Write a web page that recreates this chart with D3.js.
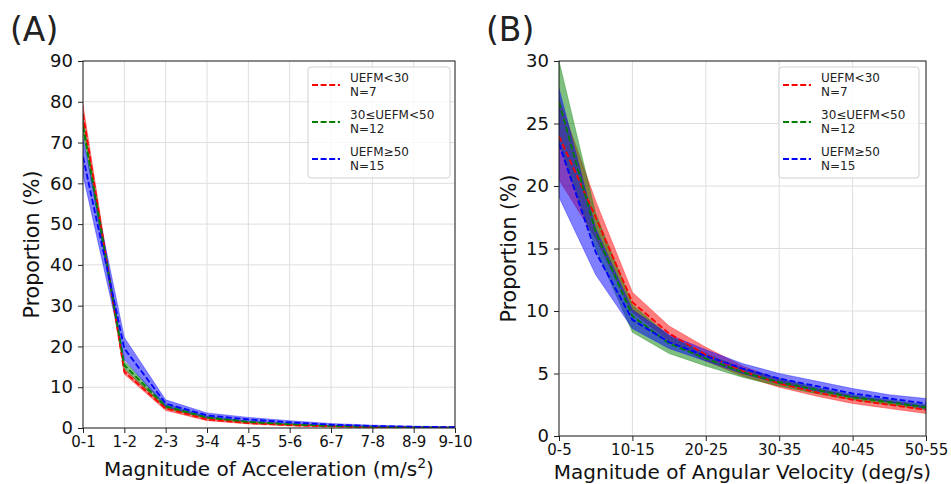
<!DOCTYPE html>
<html>
<head>
<meta charset="utf-8">
<script src="https://cdn.jsdelivr.net/npm/d3@7"></script>
<style>
  body { margin: 0; background: #fff; }
  svg { font-family: "DejaVu Sans", sans-serif; display: block; }
</style>
</head>
<body>
<div id="chart"></div>
<script>
// panel A categories and values (proportion %)
const accCats = ['0-1', '1-2', '2-3', '3-4', '4-5', '5-6', '6-7', '7-8', '8-9', '9-10'];
const accRedMean = [77.0, 13.8, 4.8, 2.1, 1.2, 0.7, 0.4, 0.2, 0.1, 0.1];
const accRedLow = [75.0, 13.2, 4.3, 1.8, 1.0, 0.5, 0.3, 0.15, 0.05, 0.05];
const accRedHigh = [79.3, 14.5, 5.3, 2.5, 1.4, 0.9, 0.5, 0.3, 0.2, 0.15];
const accGreenMean = [74.0, 15.4, 5.3, 2.6, 1.5, 0.9, 0.5, 0.3, 0.2, 0.1];
const accGreenLow = [72.0, 14.5, 4.8, 2.3, 1.3, 0.8, 0.4, 0.25, 0.15, 0.05];
const accGreenHigh = [76.0, 16.4, 5.8, 2.9, 1.7, 1.1, 0.6, 0.4, 0.25, 0.15];
const accBlueMean = [66.5, 19.5, 6.0, 3.1, 2.1, 1.4, 0.8, 0.5, 0.3, 0.2];
const accBlueLow = [62.0, 16.8, 5.2, 2.6, 1.7, 1.1, 0.6, 0.35, 0.2, 0.1];
const accBlueHigh = [71.0, 22.2, 6.9, 3.7, 2.6, 1.8, 1.1, 0.7, 0.45, 0.3];
const accYTicks = [0, 10, 20, 30, 40, 50, 60, 70, 80, 90];

// panel B categories and values
const angCats = ['0-5', '5-10', '10-15', '15-20', '20-25', '25-30', '30-35', '35-40', '40-45', '45-50', '50-55'];
const angRedMean = [24.0, 17.5, 10.7, 8.2, 6.5, 5.2, 4.2, 3.5, 2.9, 2.5, 2.1];
const angRedLow = [20.5, 15.8, 9.9, 7.6, 6.0, 4.8, 3.9, 3.2, 2.6, 2.2, 1.8];
const angRedHigh = [27.0, 18.8, 11.5, 8.8, 7.1, 5.6, 4.5, 3.8, 3.2, 2.8, 2.4];
const angGreenMean = [26.7, 16.3, 9.6, 7.4, 6.2, 5.1, 4.3, 3.7, 3.1, 2.7, 2.3];
const angGreenLow = [23.5, 15.0, 8.3, 6.6, 5.6, 4.7, 4.0, 3.4, 2.9, 2.5, 2.1];
const angGreenHigh = [30.0, 17.8, 10.5, 8.0, 6.6, 5.4, 4.6, 3.9, 3.3, 2.9, 2.5];
const angBlueMean = [23.4, 14.7, 9.3, 7.5, 6.4, 5.4, 4.6, 4.0, 3.4, 3.0, 2.6];
const angBlueLow = [19.1, 12.9, 8.6, 7.0, 6.0, 5.0, 4.2, 3.6, 3.1, 2.7, 2.2];
const angBlueHigh = [27.8, 16.6, 10.1, 8.1, 6.9, 5.8, 5.0, 4.4, 3.8, 3.3, 3.0];
const angYTicks = [0, 5, 10, 15, 20, 25, 30];
const angXTickLabels = ['0-5', '10-15', '20-25', '30-35', '40-45', '50-55'];

const groupNames = [['UEFM<30', 'N=7'], ['30≤UEFM<50', 'N=12'], ['UEFM≥50', 'N=15']];
const groupColors = ['#ff0000', '#008000', '#0000ff'];

let width = 951, height = 484;

let svg = d3.select('#chart')
  .append('svg')
  .attr('width', width)
  .attr('height', height);

function drawPanel(p) {
  let x = d3.scalePoint().domain(p.cats).range([p.left, p.right]);
  let y = d3.scaleLinear().domain([0, p.yMax]).range([p.bottom, p.top]);
  let g = svg.append('g');

  // grid
  g.selectAll('.vgrid')
    .data(p.xTicks)
    .enter()
    .append('line')
    .attr('x1', d => x(d)).attr('x2', d => x(d))
    .attr('y1', p.top).attr('y2', p.bottom)
    .attr('stroke', '#dedede').attr('stroke-width', 1);
  g.selectAll('.hgrid')
    .data(p.yTicks)
    .enter()
    .append('line')
    .attr('x1', p.left).attr('x2', p.right)
    .attr('y1', d => y(d)).attr('y2', d => y(d))
    .attr('stroke', '#dedede').attr('stroke-width', 1);

  // bands, clipped to the plot box
  let clip = 'clip' + p.id;
  svg.append('clipPath').attr('id', clip)
    .append('rect')
    .attr('x', p.left).attr('y', p.top)
    .attr('width', p.right - p.left).attr('height', p.bottom - p.top);
  let plot = g.append('g').attr('clip-path', 'url(#' + clip + ')');

  p.series.forEach(function (s, k) {
    let area = d3.area()
      .x((d, i) => x(p.cats[i]))
      .y0((d, i) => y(s.low[i]))
      .y1((d, i) => y(s.high[i]));
    plot.append('path')
      .datum(s.mean)
      .attr('d', area)
      .attr('fill', groupColors[k])
      .attr('fill-opacity', 0.5)
      .attr('stroke', groupColors[k])
      .attr('stroke-opacity', 0.35)
      .attr('stroke-width', 1);
  });
  p.series.forEach(function (s, k) {
    let line = d3.line().x((d, i) => x(p.cats[i])).y(d => y(d));
    plot.append('path')
      .datum(s.mean)
      .attr('d', line)
      .attr('fill', 'none')
      .attr('stroke', groupColors[k])
      .attr('stroke-width', 1.8)
      .attr('stroke-dasharray', '6,2.6');
  });

  // axes
  let xAxis = d3.axisBottom(x).tickValues(p.xTicks).tickSize(5).tickPadding(3);
  let gx = g.append('g')
    .attr('transform', 'translate(0,' + p.bottom + ')')
    .call(xAxis);
  gx.selectAll('text').style('font-size', '15px').attr('fill', '#111').style('font-family', 'DejaVu Sans');
  let yAxis = d3.axisLeft(y).tickValues(p.yTicks).tickSize(5).tickPadding(5);
  let gy = g.append('g')
    .attr('transform', 'translate(' + p.left + ',0)')
    .call(yAxis);
  gy.selectAll('text').style('font-size', '18px').attr('fill', '#111').style('font-family', 'DejaVu Sans');
  g.selectAll('.domain').remove();
  g.selectAll('.tick line').attr('stroke', '#222');

  g.append('rect')
    .attr('x', p.left).attr('y', p.top)
    .attr('width', p.right - p.left).attr('height', p.bottom - p.top)
    .attr('fill', 'none').attr('stroke', '#222').attr('stroke-width', 1);

  // labels
  svg.append('text')
    .attr('x', p.left - 73).attr('y', 41)
    .attr('font-size', 33).attr('fill', '#222')
    .text(p.title);

  svg.append('text')
    .attr('transform', 'translate(' + p.ylabelX + ',' + (p.top + p.bottom) / 2 + ') rotate(-90)')
    .attr('text-anchor', 'middle')
    .attr('font-size', 20.5).attr('fill', '#111')
    .text('Proportion (%)');

  let xl = svg.append('text')
    .attr('x', (p.left + p.right) / 2).attr('y', p.xlabelY)
    .attr('text-anchor', 'middle')
    .attr('font-size', 20).attr('fill', '#111');
  xl.append('tspan').text(p.xlabel);
  if (p.sup) {
    xl.append('tspan').attr('dy', -8).attr('font-size', 14).text(p.sup);
    xl.append('tspan').attr('dy', 8).text(')');
  }

  // legend
  let lg = svg.append('g');
  lg.append('rect')
    .attr('x', p.legX).attr('y', 67)
    .attr('width', p.legW).attr('height', 111)
    .attr('rx', 3)
    .attr('fill', '#fff').attr('fill-opacity', 0.8)
    .attr('stroke', '#d0d0d0');
  groupNames.forEach(function (n, k) {
    let cy = 85 + k * 37;
    lg.append('line')
      .attr('x1', p.legX + 4).attr('x2', p.legX + 32)
      .attr('y1', cy).attr('y2', cy)
      .attr('stroke', groupColors[k]).attr('stroke-width', 1.8)
      .attr('stroke-dasharray', '6,2.6');
    lg.append('text')
      .attr('x', p.legX + 42).attr('y', cy - 3.5)
      .attr('font-size', 12).attr('fill', '#222')
      .text(n[0]);
    lg.append('text')
      .attr('x', p.legX + 42).attr('y', cy + 10.5)
      .attr('font-size', 12).attr('fill', '#222')
      .text(n[1]);
  });
}

drawPanel({
  id: 'A', title: '(A)',
  cats: accCats, xTicks: accCats, yTicks: accYTicks, yMax: 90,
  left: 83, right: 455, top: 61, bottom: 428,
  ylabelX: 39, xlabelY: 476,
  xlabel: 'Magnitude of Acceleration (m/s', sup: '2',
  legX: 308, legW: 142,
  series: [
    { mean: accRedMean, low: accRedLow, high: accRedHigh },
    { mean: accGreenMean, low: accGreenLow, high: accGreenHigh },
    { mean: accBlueMean, low: accBlueLow, high: accBlueHigh }
  ]
});

drawPanel({
  id: 'B', title: '(B)',
  cats: angCats, xTicks: angXTickLabels, yTicks: angYTicks, yMax: 30,
  left: 559, right: 926, top: 61, bottom: 436,
  ylabelX: 516, xlabelY: 479,
  xlabel: 'Magnitude of Angular Velocity (deg/s)', sup: null,
  legX: 779, legW: 140,
  series: [
    { mean: angRedMean, low: angRedLow, high: angRedHigh },
    { mean: angGreenMean, low: angGreenLow, high: angGreenHigh },
    { mean: angBlueMean, low: angBlueLow, high: angBlueHigh }
  ]
});
</script>
</body>
</html>
